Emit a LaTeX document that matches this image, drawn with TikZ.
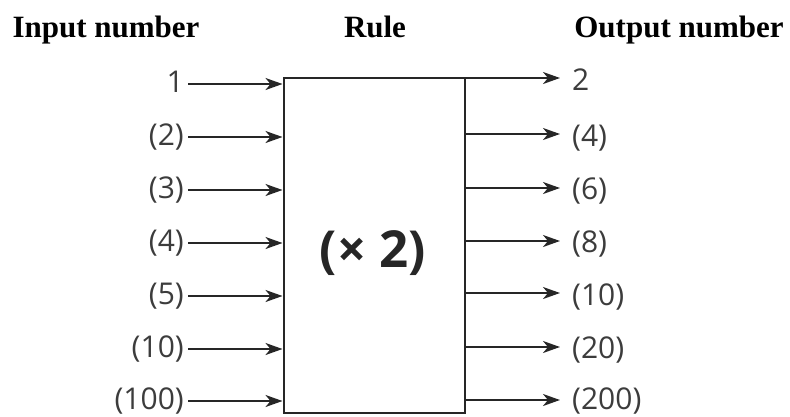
\documentclass[tikz,border=0pt]{standalone}
\usepackage{fontspec}
\setmainfont{Liberation Serif}
\newfontfamily\numfont{Open Sans}
\usetikzlibrary{arrows.meta}
\pgfdeclarelayer{edgelayer}
\pgfdeclarelayer{nodelayer}
\pgfsetlayers{edgelayer,nodelayer,main}
\definecolor{inkgrey}{HTML}{3C3C3C}
\tikzstyle{edge}=[draw=black!85, line width=2pt, -{Stealth[length=17pt, width=12pt, inset=5pt]}]
\tikzstyle{head}=[anchor=base, inner sep=0pt, font=\fontsize{31}{31}\selectfont\bfseries]
\tikzstyle{innum}=[anchor=east, inner xsep=4pt, inner ysep=0pt, text height=22.5pt, text depth=5.6pt, text=inkgrey, font=\fontsize{30}{30}\numfont]
\tikzstyle{outnum}=[anchor=west, inner xsep=12pt, inner ysep=0pt, text height=22.5pt, text depth=5.6pt, text=inkgrey, font=\fontsize{30}{30}\numfont]
\tikzstyle{rulebox}=[draw=black!85, line width=2pt, minimum width=181pt, minimum height=335pt, inner sep=0pt]

\begin{document}
\begin{tikzpicture}[x=1pt, y=-1pt]
				\useasboundingbox (0,0) rectangle (790,416);
				\begin{pgfonlayer}{nodelayer}
					\node [style=head] (hin) at (106,37) {Input number};
					\node [style=head] (hrule) at (375,37) {Rule};
					\node [style=head] (hout) at (679,37) {Output number};
					\node [style=rulebox] (rule) at (374,245.5) {};
					\node [font=\fontsize{51}{51}\numfont\bfseries, text=black!85, inner sep=0pt] (rt) at (373,253) {(× 2)};
					\node [style=innum] (i1) at (188,84) {1};
					\node [style=innum] (i2) at (188,137) {(2)};
					\node [style=innum] (i3) at (188,190) {(3)};
					\node [style=innum] (i4) at (188,243) {(4)};
					\node [style=innum] (i5) at (188,296) {(5)};
					\node [style=innum] (i6) at (188,349) {(10)};
					\node [style=innum] (i7) at (188,401) {(100)};
					\node [style=outnum] (o1) at (560,82) {2};
					\node [style=outnum] (o2) at (560,138) {(4)};
					\node [style=outnum] (o3) at (560,191) {(6)};
					\node [style=outnum] (o4) at (560,244) {(8)};
					\node [style=outnum] (o5) at (560,297) {(10)};
					\node [style=outnum] (o6) at (560,350) {(20)};
					\node [style=outnum] (o7) at (560,401) {(200)};
					\coordinate (p1) at (rule.east |- 0,78);
					\coordinate (p2) at (rule.east |- 0,134);
					\coordinate (p3) at (rule.east |- 0,188);
					\coordinate (p4) at (rule.east |- 0,241);
					\coordinate (p5) at (rule.east |- 0,293);
					\coordinate (p6) at (rule.east |- 0,347);
					\coordinate (p7) at (rule.east |- 0,400);
				\end{pgfonlayer}
				\begin{pgfonlayer}{edgelayer}
					\draw [style=edge] (i1.east) to (i1.east -| rule.west);
					\draw [style=edge] (i2.east) to (i2.east -| rule.west);
					\draw [style=edge] (i3.east) to (i3.east -| rule.west);
					\draw [style=edge] (i4.east) to (i4.east -| rule.west);
					\draw [style=edge] (i5.east) to (i5.east -| rule.west);
					\draw [style=edge] (i6.east) to (i6.east -| rule.west);
					\draw [style=edge] (i7.east) to (i7.east -| rule.west);
					\draw [style=edge] (p1) to (p1 -| o1.west);
					\draw [style=edge] (p2) to (p2 -| o2.west);
					\draw [style=edge] (p3) to (p3 -| o3.west);
					\draw [style=edge] (p4) to (p4 -| o4.west);
					\draw [style=edge] (p5) to (p5 -| o5.west);
					\draw [style=edge] (p6) to (p6 -| o6.west);
					\draw [style=edge] (p7) to (p7 -| o7.west);
				\end{pgfonlayer}
			\end{tikzpicture}
\end{document}
